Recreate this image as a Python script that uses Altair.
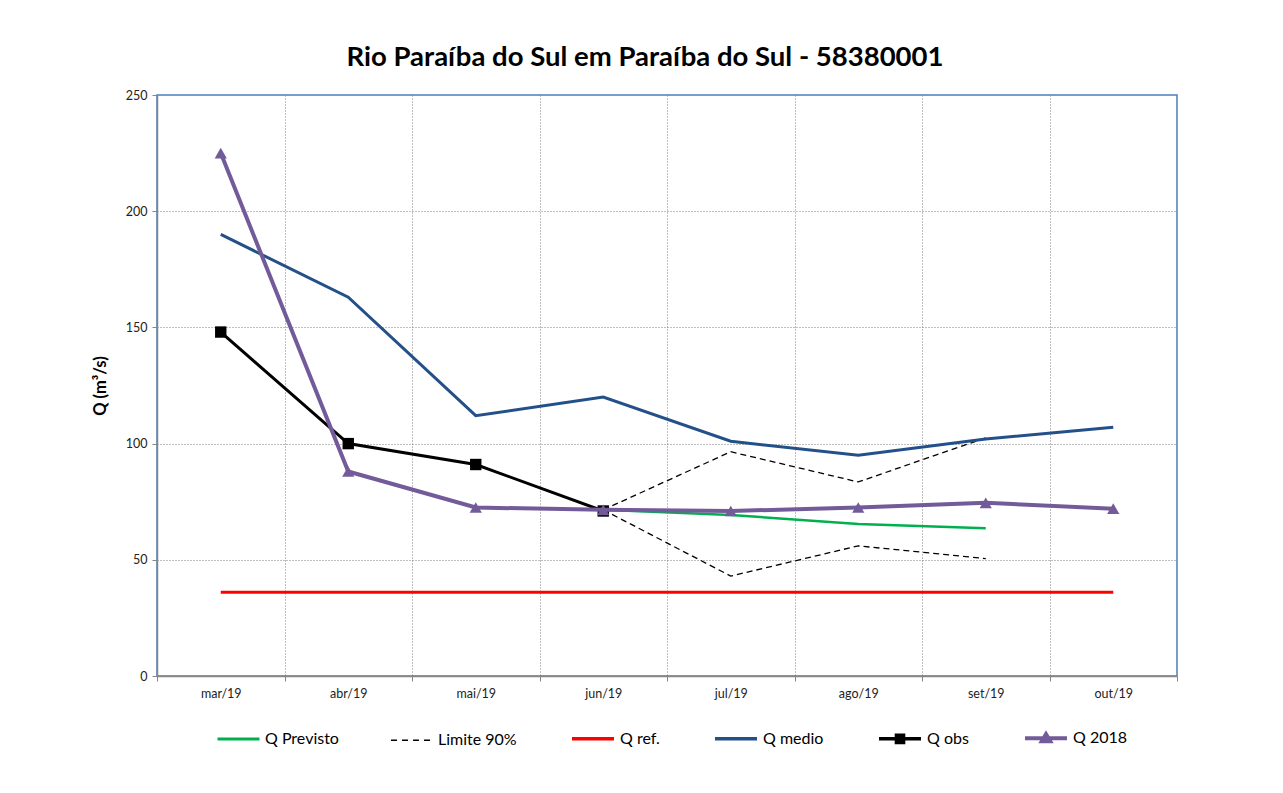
import altair as alt
import pandas as pd

months = ["mar/19", "abr/19", "mai/19", "jun/19", "jul/19", "ago/19", "set/19", "out/19"]
q_medio = [190, 163, 112, 120, 101, 95, 102, 107]
q_obs = [148, 100, 91, 71]
q_2018 = [225, 88, 72.5, 71.5, 71, 72.5, 74.5, 72]
q_previsto = [71.5, 69.3, 65.4, 63.6]
limite_sup = [71.5, 96.5, 83.5, 102.5]
limite_inf = [71.5, 43, 56, 50.5]
q_ref = [36, 36, 36, 36, 36, 36, 36, 36]
forecast_start = "jun/19"

series_names = ["Q Previsto", "Limite 90%", "Q ref.", "Q medio", "Q obs", "Q 2018"]
series_colors = ["#00B050", "#000000", "#FF0000", "#24508A", "#000000", "#735B9A"]
series_dash = [[1, 0], [6, 5], [1, 0], [1, 0], [1, 0], [1, 0]]
series_width = [3, 1.6, 3.5, 3.5, 3.5, 4]
extent = "M1,-0.3L1,-0.3M1,0.3L1,0.3"
legend_shapes = [
    "M-1,0L1,0" + extent,
    "M-1,0L1,0" + extent,
    "M-1,0L1,0" + extent,
    "M-1,0L1,0" + extent,
    "M-1,0L1,0M-0.17,-0.17L0.17,-0.17L0.17,0.17L-0.17,0.17Z" + extent,
    "M-1,0L1,0M0,-0.2L0.2,0.14L-0.2,0.14Z" + extent,
]

rows = []


def add(series, line, values, start_month):
    s = months.index(start_month)
    for i, v in enumerate(values):
        rows.append({"series": series, "line": line, "month": months[s + i],
                     "x": s + i + 0.5, "value": v})


add("Q medio", "medio", q_medio, "mar/19")
add("Q obs", "obs", q_obs, "mar/19")
add("Q 2018", "2018", q_2018, "mar/19")
add("Q Previsto", "prev", q_previsto, forecast_start)
add("Limite 90%", "lim_sup", limite_sup, forecast_start)
add("Limite 90%", "lim_inf", limite_inf, forecast_start)
add("Q ref.", "ref", q_ref, "mar/19")
df = pd.DataFrame(rows)

month_list = "[" + ",".join("'" + m + "'" for m in months) + "]"
x_values = [i / 2 for i in range(0, 2 * len(months) + 1)]

x_axis = alt.Axis(
    values=x_values,
    labelExpr=f"datum.value % 1 ? {month_list}[floor(datum.value)] : ''",
    grid=True,
    gridOpacity={"condition": {"test": "datum.value % 1 === 0 && datum.value > 0 && datum.value < 8", "value": 1}, "value": 0},
    tickOpacity={"condition": {"test": "datum.value % 1 === 0", "value": 1}, "value": 0},
    tickSize=5,
    labelPadding=6,
    labelFontSize=12.5,
    labelAngle=0,
    title=None,
)
y_axis = alt.Axis(
    values=[0, 50, 100, 150, 200, 250],
    grid=True,
    gridOpacity={"condition": {"test": "datum.value > 0 && datum.value < 250", "value": 1}, "value": 0},
    tickSize=5,
    labelPadding=5,
    labelFontSize=12.5,
    title="Q (m³/s)",
    titleFontSize=16.5,
    titleFontWeight="bold",
    titlePadding=17,
)

x_enc = alt.X("x:Q", scale=alt.Scale(domain=[0, 8], nice=False, zero=False), axis=x_axis)
y_enc = alt.Y("value:Q", scale=alt.Scale(domain=[0, 250], nice=False, zero=True), axis=y_axis)

base = alt.Chart(df)


def line_layer(line, color, width, dash=None):
    kw = {"color": color, "strokeWidth": width}
    if dash:
        kw["strokeDash"] = dash
    return base.transform_filter(alt.datum.line == line).mark_line(**kw).encode(
        x=x_enc, y=y_enc, order="x:Q")


layers = [
    line_layer("prev", "#00B050", 2.5),
    line_layer("lim_sup", "#000000", 1.3, [6, 4]),
    line_layer("lim_inf", "#000000", 1.3, [6, 4]),
    line_layer("ref", "#FF0000", 3),
    line_layer("medio", "#24508A", 3),
    line_layer("obs", "#000000", 3),
    base.transform_filter(alt.datum.line == "obs").mark_point(
        shape="square", filled=True, color="#000000", size=130, opacity=1).encode(x=x_enc, y=y_enc),
    line_layer("2018", "#735B9A", 4),
    base.transform_filter(alt.datum.line == "2018").mark_point(
        shape="triangle-up", filled=True, color="#735B9A", size=150, opacity=1).encode(x=x_enc, y=y_enc),
]

legend_df = pd.DataFrame({"series": pd.Series([], dtype=str)})
leg = alt.Legend(title=None, orient="none", direction="horizontal", legendX=59, legendY=620)
legend_layer = alt.Chart(legend_df).mark_point(filled=True, size=1764, strokeWidth=3, opacity=1).encode(
    fill=alt.Fill("series:N", scale=alt.Scale(domain=series_names, range=series_colors), legend=leg),
    stroke=alt.Stroke("series:N", scale=alt.Scale(domain=series_names, range=series_colors), legend=leg),
    shape=alt.Shape("series:N", scale=alt.Scale(domain=series_names, range=legend_shapes), legend=leg),
    strokeDash=alt.StrokeDash("series:N", scale=alt.Scale(domain=series_names, range=series_dash), legend=leg),
    strokeWidth=alt.StrokeWidth("series:N", scale=alt.Scale(type="ordinal", domain=series_names, range=series_width), legend=leg),
)
layers.append(legend_layer)

chart = alt.layer(*layers).properties(
    width=1020,
    height=581,
    title=alt.TitleParams(
        "Rio Paraíba do Sul em Paraíba do Sul - 58380001",
        font="Lato", fontSize=27.5, fontWeight="bold", color="#000000",
        anchor="middle", dx=-22, offset=18,
    ),
    autosize=alt.AutoSizeParams(type="none"),
    padding={"left": 149, "top": 87, "right": 98, "bottom": 109},
).configure(
    font="Lato",
    background="white",
).configure_view(
    stroke="#4A7EBB", strokeWidth=1.5,
).configure_axis(
    labelFont="Lato", titleFont="Lato", labelColor="#222222", titleColor="#000000",
    domainColor="#868686", domainWidth=1.5, tickColor="#868686",
    gridColor="#7F7F7F", gridDash=[1, 2], gridWidth=1,
).configure_legend(
    labelFont="Lato", labelFontSize=16, labelColor="#000000",
    symbolSize=1764, labelOffset=4,
    columnPadding=48, padding=0,
)

chart.save("out.html", embed_options={"renderer": "svg", "actions": False})
